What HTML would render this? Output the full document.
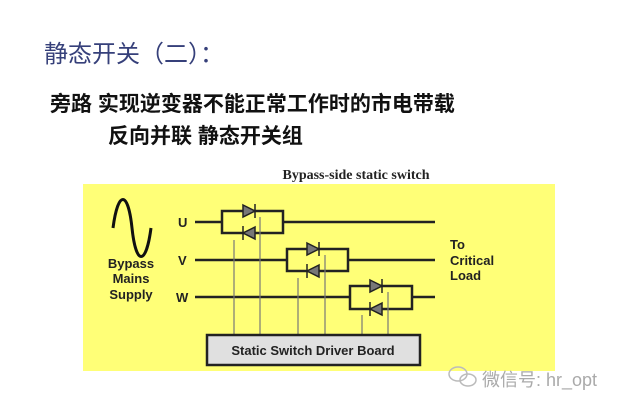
<!DOCTYPE html>
<html><head><meta charset="utf-8"><style>
body{margin:0;width:640px;height:410px;background:#fff;overflow:hidden;position:relative;font-family:"Liberation Sans","Noto Sans CJK SC",sans-serif}
.t{position:absolute;white-space:nowrap}
</style></head><body>
<div class="t" style="left:44px;top:34px;font-size:24px;color:#36407a;font-family:'Noto Sans CJK SC',sans-serif">静态开关（二）：</div>
<div class="t" style="left:50px;top:88px;font-size:21px;font-weight:bold;color:#111">旁路 实现逆变器不能正常工作时的市电带载</div>
<div class="t" style="left:108px;top:120px;font-size:21px;font-weight:bold;color:#111">反向并联 静态开关组</div>
<svg width="640" height="410" style="position:absolute;left:0;top:0">
<rect x="83" y="184" width="472" height="187" fill="#ffff77"/>
<text x="356" y="179" font-family="Liberation Serif" font-weight="bold" font-size="14" text-anchor="middle" fill="#222">Bypass-side static switch</text>
<path d="M113 228 C118 190,128 190,132 228 C136 266,146 266,151 228" fill="none" stroke="#111" stroke-width="3"/>
<g font-family="Liberation Sans" font-weight="bold" font-size="13" fill="#222">
<text x="131" y="268" text-anchor="middle">Bypass</text>
<text x="131" y="283" text-anchor="middle">Mains</text>
<text x="131" y="299" text-anchor="middle">Supply</text>
<text x="178" y="227">U</text><text x="178" y="265">V</text><text x="176" y="302">W</text>
<text x="450" y="249">To</text><text x="450" y="265">Critical</text><text x="450" y="280">Load</text>
</g>
<g stroke="#222" stroke-width="2.5" fill="none">
<line x1="195" y1="222" x2="222" y2="222"/><line x1="283" y1="222" x2="435" y2="222"/>
<line x1="195" y1="260" x2="287" y2="260"/><line x1="348" y1="260" x2="435" y2="260"/>
<line x1="195" y1="297" x2="350" y2="297"/><line x1="412" y1="297" x2="435" y2="297"/>
<rect x="222" y="211" width="61" height="22"/>
<rect x="287" y="249" width="61" height="22"/>
<rect x="350" y="286" width="62" height="23"/>
</g>
<g stroke="#777" stroke-width="1.2">
<line x1="234" y1="240" x2="234" y2="335"/><line x1="260" y1="217" x2="260" y2="335"/>
<line x1="298" y1="278" x2="298" y2="335"/><line x1="325" y1="255" x2="325" y2="335"/>
<line x1="362" y1="315" x2="362" y2="335"/><line x1="388" y1="292" x2="388" y2="335"/>
</g>
<g fill="#777" stroke="#222" stroke-width="1.5">
<path d="M243 205 L255 211 L243 217 Z"/><line x1="255" y1="204" x2="255" y2="218"/>
<path d="M255 227 L243 233 L255 239 Z"/><line x1="243" y1="226" x2="243" y2="240"/>
<path d="M307 243 L319 249 L307 255 Z"/><line x1="319" y1="242" x2="319" y2="256"/>
<path d="M319 265 L307 271 L319 277 Z"/><line x1="307" y1="264" x2="307" y2="278"/>
<path d="M370 280 L382 286 L370 292 Z"/><line x1="382" y1="279" x2="382" y2="293"/>
<path d="M382 303 L370 309 L382 315 Z"/><line x1="370" y1="302" x2="370" y2="316"/>
</g>
<rect x="207" y="335" width="213" height="30" fill="#e0e0e0" stroke="#222" stroke-width="2.5"/>
<text x="313" y="355" font-family="Liberation Sans" font-weight="bold" font-size="13" text-anchor="middle" fill="#222">Static Switch Driver Board</text>
<g fill="none" stroke="#bbb" stroke-width="1.5"><ellipse cx="458" cy="374" rx="9" ry="7"/><ellipse cx="468" cy="380" rx="8" ry="6"/></g>
<text x="482" y="386" font-family="Liberation Sans,Noto Sans CJK SC,sans-serif" font-size="18" fill="#aaa">微信号: hr_opt</text>
</svg>
</body></html>
